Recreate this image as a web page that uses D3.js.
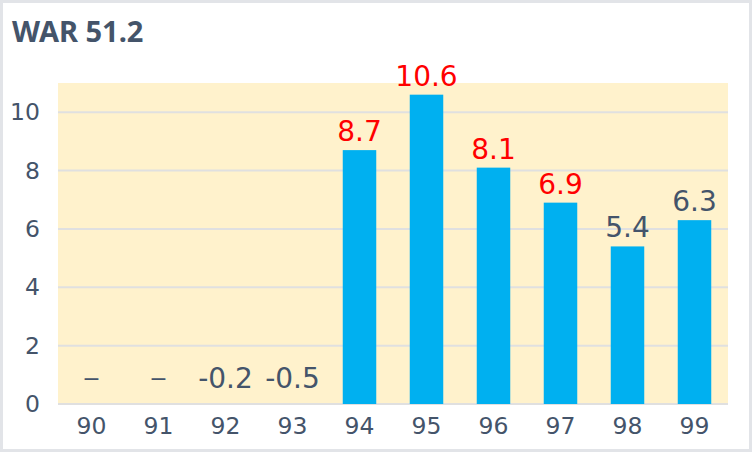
<!DOCTYPE html>
<html>
<head>
<meta charset="utf-8">
<script src="https://cdn.jsdelivr.net/npm/d3@7"></script>
<style>
  html, body { margin: 0; padding: 0; background: #fff; }
  svg { display: block; font-family: "DejaVu Sans", sans-serif; }
</style>
</head>
<body>
<script>
// seasons and WAR per season (null = no record)
const seasons = ["90", "91", "92", "93", "94", "95", "96", "97", "98", "99"]
const war = [null, null, -0.2, -0.5, 8.7, 10.6, 8.1, 6.9, 5.4, 6.3]
const highlight = ["94", "95", "96", "97"]
const yTicks = [0, 2, 4, 6, 8, 10]
const title = "WAR 51.2"

const W = 752, H = 452
const margin = { top: 83, right: 24, bottom: 48, left: 58 }
const textColor = "#44546a"
const numFont = "'DejaVu Sans', sans-serif"

const svg = d3.select("body").append("svg")
  .attr("width", W)
  .attr("height", H)

// outer frame
svg.append("rect")
  .attr("x", 1.5).attr("y", 1.5)
  .attr("width", W - 3).attr("height", H - 3)
  .attr("fill", "#fff")
  .attr("stroke", "#e2e4e8")
  .attr("stroke-width", 3)

svg.append("text")
  .attr("x", 12)
  .attr("y", 42)
  .attr("fill", textColor)
  .attr("font-family", "'Noto Sans', sans-serif")
  .attr("font-size", 29)
  .attr("font-weight", "bold")
  .text(title)

const x = d3.scaleBand()
  .domain(seasons)
  .range([margin.left, W - margin.right])
  .paddingInner(0.5)
  .paddingOuter(0.25)

const y = d3.scaleLinear()
  .domain([0, 11])
  .range([H - margin.bottom, margin.top])
  .clamp(true)

// plot background
svg.append("rect")
  .attr("x", margin.left)
  .attr("y", margin.top)
  .attr("width", W - margin.left - margin.right)
  .attr("height", H - margin.top - margin.bottom)
  .attr("fill", "#fff2cc")

// gridlines
svg.append("g")
  .selectAll("line")
  .data(yTicks)
  .join("line")
  .attr("x1", margin.left)
  .attr("x2", W - margin.right)
  .attr("y1", d => y(d))
  .attr("y2", d => y(d))
  .attr("stroke", "#e0e0e0")
  .attr("stroke-width", 2)

// y axis
const yAxis = svg.append("g")
  .attr("transform", `translate(${margin.left},0)`)
  .call(d3.axisLeft(y).tickValues(yTicks).tickSize(0).tickPadding(18))
  .attr("font-family", numFont)
  .attr("font-size", 23.5)
yAxis.select(".domain").remove()
yAxis.selectAll("text").attr("fill", textColor)

// x axis
const xAxis = svg.append("g")
  .attr("transform", `translate(0,${H - margin.bottom})`)
  .call(d3.axisBottom(x).tickSize(0).tickPadding(13))
  .attr("font-family", numFont)
  .attr("font-size", 23.5)
xAxis.select(".domain").remove()
xAxis.selectAll("text").attr("fill", textColor)

const data = seasons.map((s, i) => ({ season: s, value: war[i] }))

// bars
svg.append("g")
  .selectAll("rect")
  .data(data.filter(d => d.value !== null))
  .join("rect")
  .attr("x", d => x(d.season))
  .attr("width", x.bandwidth())
  .attr("y", d => Math.min(y(d.value), y(0)))
  .attr("height", d => Math.abs(y(0) - y(d.value)))
  .attr("fill", "#00b0f0")

// value labels
svg.append("g")
  .attr("font-family", numFont)
  .selectAll("text")
  .data(data)
  .join("text")
  .attr("x", d => x(d.season) + x.bandwidth() / 2)
  .attr("y", d => (d.value === null || d.value <= 0) ? y(0) - 16 : y(d.value) - 9)
  .attr("dy", d => d.value === null ? -2 : 0)
  .attr("text-anchor", "middle")
  .attr("font-size", d => d.value === null ? 22 : 28)
  .attr("fill", d => highlight.includes(d.season) ? "#ff0000" : textColor)
  .text(d => d.value === null ? "\u2212" : d.value.toFixed(1))
</script>
</body>
</html>
